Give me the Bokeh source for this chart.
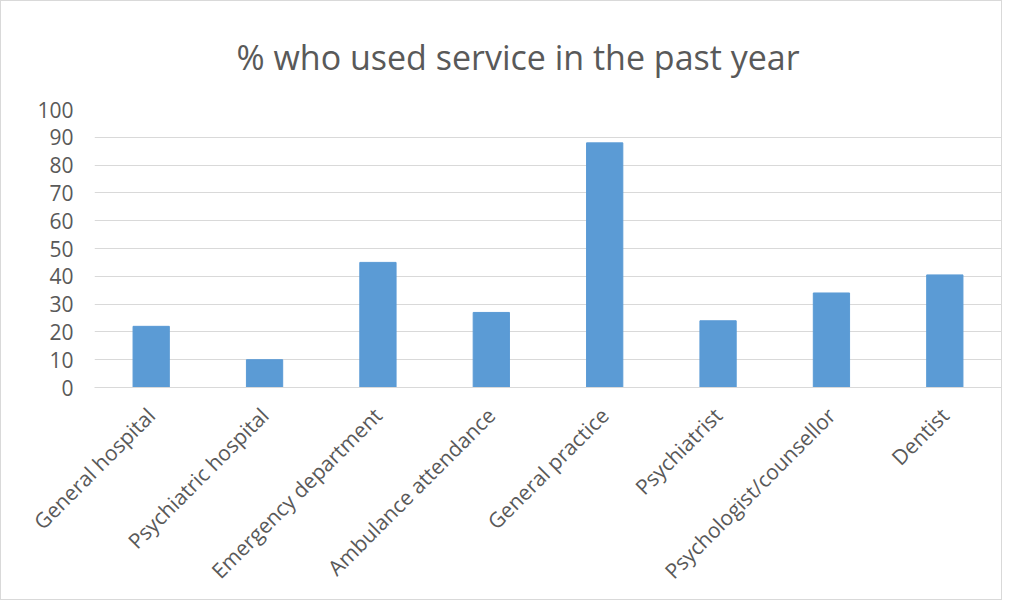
import math
from bokeh.plotting import figure
from bokeh.models import FactorRange, Range1d, FixedTicker
from bokeh.embed import file_html
from bokeh.resources import INLINE

categories = [
    "General hospital",
    "Psychiatric hospital",
    "Emergency department",
    "Ambulance attendance",
    "General practice",
    "Psychiatrist",
    "Psychologist/counsellor",
    "Dentist",
]
values = [22, 10, 45, 27, 88, 24, 34, 40.5]
y_ticks = [0, 10, 20, 30, 40, 50, 60, 70, 80, 90, 100]
title_text = "% who used service in the past year"

FONT = "Open Sans"
GREY = "#595959"

p = figure(
    x_range=FactorRange(*categories, range_padding=0),
    y_range=Range1d(0, 100),
    width=1002, height=600,
    output_backend="svg", toolbar_location=None,
    min_border_left=93, min_border_right=2,
    min_border_top=108, min_border_bottom=214,
    title=title_text,
)
p.styles = {"border": "1px solid #d9d9d9", "box-sizing": "border-box"}

p.vbar(x=categories, top=values, width=0.32, fill_color="#5B9BD5", line_color="#5B9BD5")

p.title.align = "left"
p.title.offset = 142
p.title.text_font = FONT
p.title.text_font_size = "34px"
p.title.text_font_style = "normal"
p.title.text_color = GREY
p.title.standoff = 60

p.outline_line_color = None
p.xgrid.visible = False
p.ygrid.grid_line_color = "#d9d9d9"
p.ygrid.grid_line_width = 1

p.yaxis.ticker = FixedTicker(ticks=y_ticks)
p.yaxis.axis_line_color = None
p.yaxis.major_tick_line_color = None
p.yaxis.minor_tick_line_color = None
p.yaxis.major_label_text_font = FONT
p.yaxis.major_label_text_font_size = "21px"
p.yaxis.major_label_text_color = GREY
p.yaxis.major_label_standoff = 15

p.xaxis.axis_line_color = "#d9d9d9"
p.xaxis.major_tick_line_color = None
p.xaxis.minor_tick_line_color = None
p.xaxis.major_label_orientation = math.pi / 4
p.xaxis.major_label_text_font = FONT
p.xaxis.major_label_text_font_size = "21px"
p.xaxis.major_label_text_color = GREY
p.xaxis.major_label_standoff = 18

open("out.html", "w").write(file_html(p, INLINE))
